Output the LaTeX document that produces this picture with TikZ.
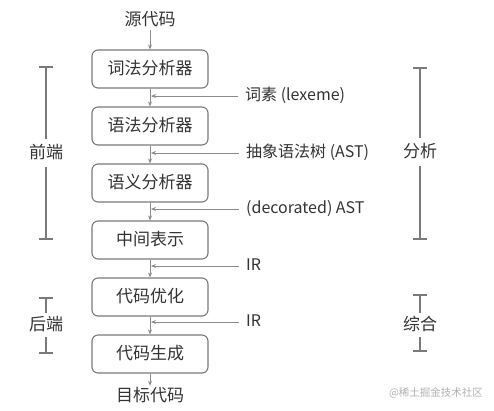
\documentclass[tikz,border=0pt]{standalone}
\usepackage{fontspec}
\setmainfont{Noto Sans CJK SC}
\usepackage{xcolor}
\usepackage{tikz}
\usetikzlibrary{arrows.meta,positioning}
\definecolor{cpInk}{HTML}{333333}
\definecolor{cpLine}{HTML}{7A7A7A}
\definecolor{cpArrow}{HTML}{8C8C8C}
\definecolor{cpMark}{HTML}{B0B0B0}
\tikzset{
  stagebox/.style={rectangle,rounded corners=6pt,
    minimum width=116pt,minimum height=38pt,inner ysep=0pt,
    text height=13pt,text depth=3pt,
    align=center,draw=cpLine,line width=1.1pt,
    font=\fontsize{17}{20}\selectfont,text=cpInk},
  iotext/.style={inner sep=2pt,text height=13pt,text depth=3pt,
    font=\fontsize{17}{20}\selectfont,text=cpInk},
  lbl/.style={anchor=west,inner sep=0pt,text height=12pt,text depth=3pt,
    font=\fontsize{16}{19}\selectfont,text=cpInk},
  sidelbl/.style={inner sep=6pt,text height=13pt,text depth=3pt,
    font=\fontsize{17}{20}\selectfont,text=cpInk},
  arr/.style={-{Stealth[length=5pt,width=4pt]},line width=0.8pt,color=cpArrow},
  brk/.style={{Bar[width=14pt]}-,line width=1.7pt,color=cpLine},
  wmark/.style={font=\fontsize{10.5}{12}\selectfont,text=cpMark},
}
\begin{document}
\begin{tikzpicture}[x=1pt,y=-1pt]
  \useasboundingbox (0,0) rectangle (494,410);

  % pipeline
  \node[iotext] (src) at (150,20) {源代码};
  \node[stagebox] (lex) at (150,69) {词法分析器};
  \node[stagebox,below=17.9pt of lex] (syn) {语法分析器};
  \node[stagebox,below=17.9pt of syn] (sem) {语义分析器};
  \node[stagebox,below=17.9pt of sem] (ir) {中间表示};
  \node[stagebox,below=17.9pt of ir] (opt) {代码优化};
  \node[stagebox,below=17.9pt of opt] (gen) {代码生成};
  \node[iotext] (tgt) at (150,396) {目标代码};

  \draw[arr] (src) -- (lex);
  \draw[arr] (lex) -- (syn);
  \draw[arr] (syn) -- (sem);
  \draw[arr] (sem) -- (ir);
  \draw[arr] (ir) -- (opt);
  \draw[arr] (opt) -- (gen);
  \draw[arr] (gen) -- (tgt);

  % intermediate products
  \node[lbl] (lexeme) at (245,96) {词素 (lexeme)};
  \node[lbl] (ast) at (246,153) {抽象语法树 (AST)};
  \node[lbl] (dast) at (246,209) {(decorated) AST};
  \node[lbl] (irone) at (246,266) {IR};
  \node[lbl] (irtwo) at (246,322) {IR};

  \draw[arr] ([xshift=-7pt]lexeme.west) -- ([xshift=1pt]lexeme.west -| lex);
  \draw[arr] ([xshift=-7pt]ast.west) -- ([xshift=1pt]ast.west -| lex);
  \draw[arr] ([xshift=-7pt]dast.west) -- ([xshift=1pt]dast.west -| lex);
  \draw[arr] ([xshift=-7pt]irone.west) -- ([xshift=1pt]irone.west -| lex);
  \draw[arr] ([xshift=-7pt]irtwo.west) -- ([xshift=1pt]irtwo.west -| lex);

  % left brackets
  \coordinate (fetop) at (46,66);
  \coordinate (febot) at (46,240);
  \node[sidelbl] (front) at (46,153) {前端};
  \draw[brk] (fetop) -- (front);
  \draw[brk] (febot) -- (front);

  \coordinate (betop) at (46,297);
  \coordinate (bebot) at (46,354);
  \node[sidelbl,inner sep=4pt] (back) at (46,325) {后端};
  \draw[brk] (betop) -- (back);
  \draw[brk] (bebot) -- (back);

  % right brackets
  \coordinate (antop) at (420,67);
  \coordinate (anbot) at (420,240);
  \node[sidelbl] (analysis) at (420,152) {分析};
  \draw[brk] (antop) -- (analysis);
  \draw[brk] (anbot) -- (analysis);

  \coordinate (sytop) at (420,294);
  \coordinate (sybot) at (420,352);
  \node[sidelbl,inner sep=4pt] (synth) at (420,325) {综合};
  \draw[brk] (sytop) -- (synth);
  \draw[brk] (sybot) -- (synth);

  \node[wmark] (wm) at (436,393) {@稀土掘金技术社区};
\end{tikzpicture}
\end{document}
